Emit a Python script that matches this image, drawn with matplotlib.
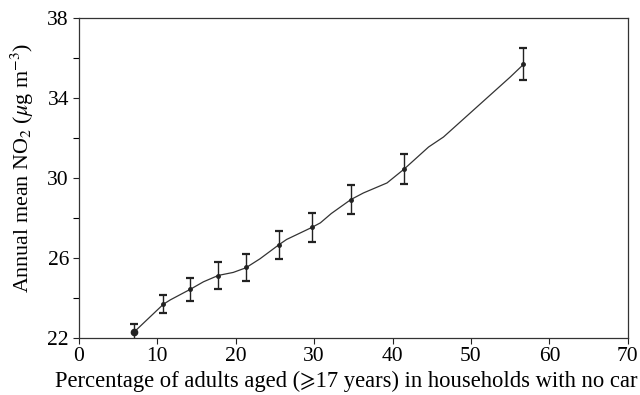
import numpy as np
import matplotlib.pyplot as plt

plt.rcParams['font.family'] = ['Liberation Serif', 'STIXGeneral']
plt.rcParams['mathtext.fontset'] = 'stix'

# group means with error bars
pct_no_car = [7.1, 10.8, 14.2, 17.8, 21.3, 25.5, 29.7, 34.7, 41.5, 56.6]
no2_mean = [22.3, 23.68, 24.42, 25.1, 25.52, 26.65, 27.53, 28.92, 30.43, 35.72]
no2_err = [0.4, 0.46, 0.57, 0.68, 0.68, 0.71, 0.73, 0.74, 0.75, 0.8]

# smoothed fit through the groups
fit_x = [7.1, 10.8, 11.7, 14.2, 15.9, 17.8, 19.7, 21.3, 23.1, 25.5, 26.5, 29.7,
         30.8, 32.2, 34.7, 36.3, 39.3, 41.5, 44.6, 46.5, 55.0, 56.6]
fit_y = [22.3, 23.68, 23.9, 24.42, 24.8, 25.12, 25.27, 25.5, 25.95, 26.65, 26.92, 27.52,
         27.75, 28.22, 28.92, 29.25, 29.75, 30.45, 31.55, 32.05, 35.05, 35.65]

fig = plt.figure(figsize=(6.4, 3.95), dpi=100)
ax = fig.add_axes([0.123, 0.145, 0.858, 0.809])

ax.plot(fit_x, fit_y, color='#333333', linewidth=0.9, zorder=2)
ax.errorbar(pct_no_car, no2_mean, yerr=no2_err, fmt='o', color='#222222',
            markersize=2.5, elinewidth=1.0, capsize=3, capthick=1.6, zorder=3)
ax.plot(pct_no_car[0], no2_mean[0], 'o', color='#222222', markersize=4.5, zorder=4)

ax.set_xlim(0, 70)
ax.set_ylim(22, 38)
ax.set_xticks(np.arange(0, 71, 10))
ax.set_yticks(np.arange(22, 39, 4))
ax.set_yticks(np.arange(24, 38, 4), minor=True)
ax.tick_params(axis='both', which='major', direction='out', length=4, width=0.8,
               labelsize=15.5, color='#222222', pad=3)
ax.tick_params(axis='y', which='minor', direction='out', length=4, width=0.8)
for s in ax.spines.values():
    s.set_linewidth(0.9)
    s.set_color('#333333')

ax.set_xlabel('Percentage of adults aged (\u2a7e17 years) in households with no car',
              fontsize=16.3, labelpad=3, ha='left', x=-0.043)
ax.set_ylabel('Annual mean NO$_2$ ($\\mu$g m$^{-3}$)', fontsize=15.8, labelpad=8, y=0.53)

plt.savefig('out.png', dpi=100)
